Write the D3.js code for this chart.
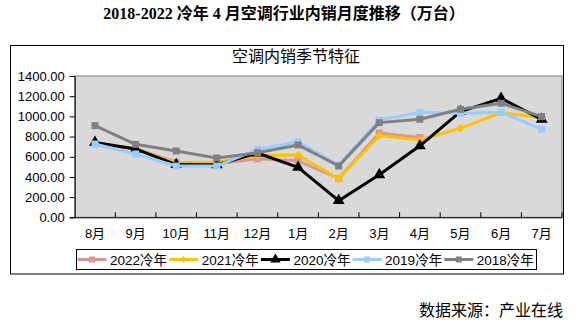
<!DOCTYPE html>
<html><head><meta charset="utf-8">
<script src="https://cdn.jsdelivr.net/npm/d3@7"></script>
<style>body{margin:0;background:#fff}svg{display:block}</style>
</head><body>
<script>
const categories = ["8月","9月","10月","11月","12月","1月","2月","3月","4月","5月","6月","7月"];
const yTicks = [0,200,400,600,800,1000,1200,1400];
const s2022 = [730, 680, 545, 530, 580, 560, 385, 835, 790];
const s2021 = [740, 680, 540, 548, 612, 617, 380, 810, 766, 882, 1037, 987];
const s2020 = [742, 677, 522, 520, 637, 495, 165, 422, 708, 1047, 1179, 971];
const s2019 = [726, 627, 508, 508, 674, 749, 518, 964, 1040, 1031, 1040, 872];
const s2018 = [908, 723, 657, 588, 640, 717, 508, 938, 971, 1070, 1130, 997];
const seriesNames = ["2022冷年","2021冷年","2020冷年","2019冷年","2018冷年"];
const seriesData = [s2022, s2021, s2020, s2019, s2018];
const colors = ["#D99694","#FFC000","#000000","#99CCFF","#808080"];
const markers = ["square","diamond","triangle","square","square"];

const W = 580, H = 324;
const svg = d3.select("body").append("svg").attr("width", W).attr("height", H);
const sans = "'Liberation Sans','Noto Sans CJK SC',sans-serif";

// main title
svg.append("text").attr("x", 284).attr("y", 18.5).attr("text-anchor","middle")
  .attr("font-family","'Liberation Serif','Noto Sans CJK SC',serif").attr("font-weight","bold")
  .attr("font-size",16).attr("fill","#000")
  .text("2018-2022 冷年 4 月空调行业内销月度推移（万台）");

// outer frame
svg.append("rect").attr("x",10.5).attr("y",45.5).attr("width",553).attr("height",228.5)
  .attr("fill","#fff").attr("stroke","#000").attr("stroke-width",1);

// chart title
svg.append("text").attr("x", 296).attr("y", 62).attr("text-anchor","middle")
  .attr("font-family",sans).attr("font-size",16).attr("fill","#000").text("空调内销季节特征");

const L = 74.7, R = 562, T = 76, B = 217.3;
const x = d3.scaleBand().domain(categories).range([L, R]).padding(0);
const y = d3.scaleLinear().domain([0, 1400]).range([B, T]);

svg.append("rect").attr("x",L).attr("y",T).attr("width",R-L).attr("height",B-T)
  .attr("fill","#D9D9D9").attr("stroke","#808080").attr("stroke-width",1);

// y axis
const yAxis = svg.append("g").attr("transform",`translate(${L},0)`)
  .call(d3.axisLeft(y).tickValues(yTicks).tickFormat(d3.format(".2f")).tickSize(5).tickPadding(5));
yAxis.select(".domain").attr("stroke","#000");
yAxis.selectAll(".tick line").attr("stroke","#000");
yAxis.selectAll("text").attr("font-family",sans).attr("font-size",13).attr("fill","#000");

// x axis
const xAxis = svg.append("g").attr("transform",`translate(0,${B})`)
  .call(d3.axisBottom(x).tickSize(0).tickPadding(11));
xAxis.select(".domain").attr("stroke","#000");
xAxis.selectAll("text").attr("font-family",sans).attr("font-size",13).attr("fill","#000");
// inside ticks on category boundaries
xAxis.selectAll(".bnd").data(categories.slice(1).concat(["end"])).enter().append("line")
  .attr("x1",(d,i)=> L + (i+1)*x.bandwidth()).attr("x2",(d,i)=> L + (i+1)*x.bandwidth())
  .attr("y1",0).attr("y2",-5).attr("stroke","#000");

function drawMarker(g, type, color, size) {
  if (type === "square") {
    g.append("rect").attr("x",-size/2).attr("y",-size/2).attr("width",size).attr("height",size).attr("fill",color);
  } else if (type === "diamond") {
    g.append("path").attr("d", d3.symbol().type(d3.symbolDiamond2).size(size*size*0.9)()).attr("fill",color);
  } else {
    g.append("path").attr("d", d3.symbol().type(d3.symbolTriangle).size(size*size*0.75)()).attr("fill",color);
  }
}

const line = d3.line().x((d,i)=> x(categories[i]) + x.bandwidth()/2).y(d=> y(d));
seriesData.forEach((data, si) => {
  const g = svg.append("g");
  g.append("path").datum(data).attr("d", line).attr("fill","none")
    .attr("stroke", colors[si]).attr("stroke-width", 3).attr("stroke-linejoin","round");
  data.forEach((v, i) => {
    const mg = g.append("g").attr("transform",`translate(${x(categories[i]) + x.bandwidth()/2},${y(v)})`);
    drawMarker(mg, markers[si], colors[si], markers[si]==="diamond" ? 7 : (markers[si]==="triangle" ? 9 : 7));
  });
});

// legend
const lg = svg.append("g");
lg.append("rect").attr("x",76.5).attr("y",249.5).attr("width",460).attr("height",20)
  .attr("fill","#fff").attr("stroke","#000").attr("stroke-width",1);
seriesNames.forEach((name, i) => {
  const x0 = 77.5 + i*91.7;
  const it = lg.append("g");
  it.append("line").attr("x1",x0).attr("x2",x0+29).attr("y1",259.5).attr("y2",259.5)
    .attr("stroke",colors[i]).attr("stroke-width",3);
  const mg = it.append("g").attr("transform",`translate(${x0+14.5},259.5)`);
  drawMarker(mg, markers[i], colors[i], markers[i]==="triangle" ? 8 : 6);
  it.append("text").attr("x",x0+32.5).attr("y",264.5).attr("font-family",sans)
    .attr("font-size",13.5).attr("fill","#000").text(name);
});

// source
svg.append("text").attr("x",563).attr("y",316).attr("text-anchor","end")
  .attr("font-family","'Noto Sans CJK SC',sans-serif").attr("font-size",16).attr("fill","#000")
  .text("数据来源：产业在线");
</script>
</body></html>
